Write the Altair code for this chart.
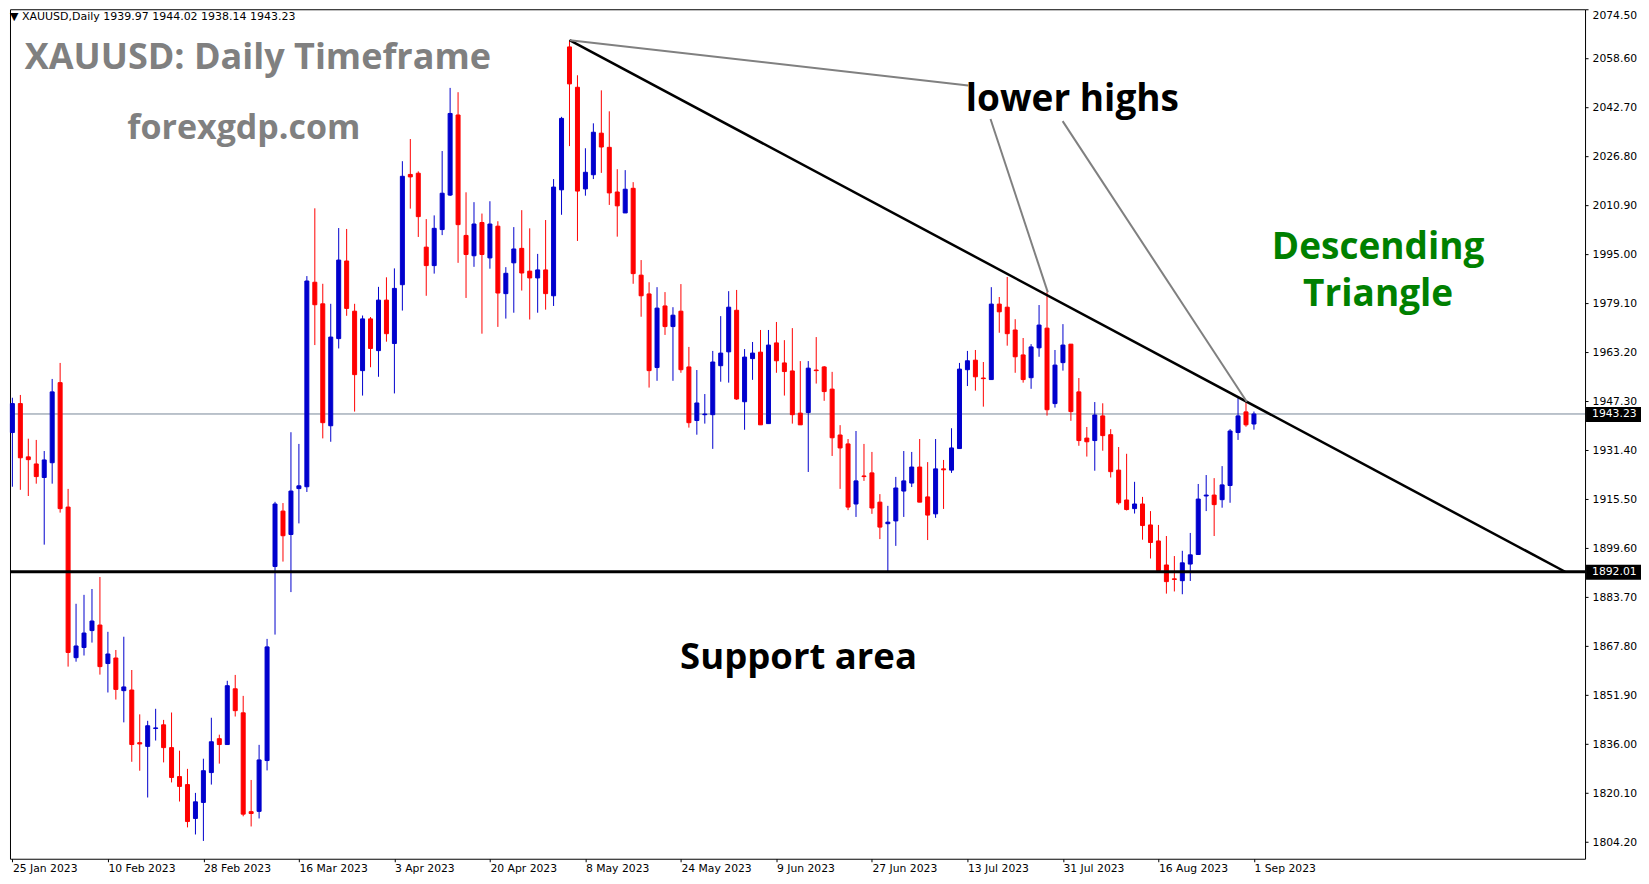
import altair as alt
import pandas as pd

# ---------------- data ----------------
opens = [1937.2, 1946.6, 1929.3, 1927.0, 1922.6, 1927.4, 1953.4, 1913.0, 1864.1, 1867.4,
         1872.9, 1874.7, 1862.2, 1864.0, 1853.4, 1853.6, 1836.5, 1835.3, 1841.1, 1842.3,
         1834.9, 1825.5, 1822.9, 1811.9, 1817.1, 1826.8, 1837.8, 1835.9, 1854.0, 1846.2,
         1814.1, 1814.2, 1830.7, 1893.7, 1911.7, 1904.1, 1919.0, 1919.6, 1986.0, 1979.0,
         1939.4, 1967.7, 1992.9, 1976.6, 1957.3, 1974.1, 1963.8, 1980.2, 1966.1, 1985.2,
         2021.0, 2021.4, 1997.4, 1991.4, 2003.1, 2014.3, 2040.3, 2001.2, 1994.6, 2005.4,
         1993.9, 2004.2, 1982.3, 1992.3, 1997.0, 1989.6, 1987.4, 1990.0, 1981.6, 2016.0,
         2062.4, 2049.3, 2016.3, 2020.9, 2034.4, 2029.8, 2015.3, 2008.5, 2016.5, 1988.3,
         1982.2, 1958.3, 1978.3, 1971.6, 1976.6, 1958.5, 1941.1, 1943.0, 1943.0, 1958.9,
         1963.4, 1976.9, 1947.2, 1961.2, 1963.3, 1940.1, 1966.3, 1959.8, 1957.2, 1943.5,
         1943.7, 1957.5, 1958.5, 1951.3, 1936.4, 1933.5, 1914.0, 1923.1, 1924.1, 1914.6,
         1907.6, 1908.5, 1918.2, 1920.8, 1926.0, 1916.3, 1910.8, 1925.4, 1925.0, 1932.0,
         1957.6, 1960.7, 1954.9, 1954.4, 1978.9, 1977.9, 1970.5, 1962.4, 1955.0, 1964.7,
         1971.1, 1946.6, 1959.9, 1965.9, 1950.4, 1935.4, 1934.6, 1942.6, 1936.5, 1925.0,
         1915.3, 1912.5, 1914.0, 1907.2, 1902.0, 1894.2, 1889.7, 1889.1, 1894.5, 1897.6,
         1916.6, 1916.9, 1915.4, 1920.0, 1937.2, 1943.9, 1939.97]
highs = [1948.5, 1949.4, 1935.2, 1934.8, 1931.2, 1954.6, 1959.8, 1918.9, 1881.6, 1884.5,
         1886.4, 1890.3, 1872.5, 1866.6, 1870.9, 1860.1, 1845.7, 1843.6, 1847.5, 1843.9,
         1846.3, 1833.9, 1828.0, 1820.2, 1831.3, 1844.6, 1839.1, 1856.6, 1858.5, 1851.7,
         1824.4, 1835.8, 1870.2, 1914.7, 1914.3, 1937.3, 1933.5, 1988.0, 2010.0, 1985.5,
         1979.0, 2003.6, 2003.3, 1979.0, 1975.2, 1974.7, 1984.5, 1987.6, 1990.5, 2025.3,
         2032.5, 2022.0, 2006.5, 2007.7, 2028.6, 2049.1, 2047.7, 2015.2, 2012.0, 2008.3,
         2012.3, 2005.8, 1990.9, 2003.9, 2009.4, 2003.5, 1995.2, 2006.2, 2019.5, 2039.7,
         2064.6, 2053.2, 2029.5, 2037.6, 2048.3, 2041.5, 2022.7, 2022.4, 2018.5, 1993.2,
         1986.0, 1984.4, 1982.8, 1977.9, 1985.4, 1965.0, 1957.5, 1949.7, 1963.7, 1975.0,
         1983.1, 1983.5, 1964.3, 1966.6, 1970.5, 1970.5, 1973.1, 1967.2, 1971.1, 1960.4,
         1960.4, 1968.2, 1958.8, 1956.9, 1939.6, 1935.1, 1937.7, 1933.5, 1930.9, 1917.2,
         1913.4, 1922.8, 1931.2, 1930.9, 1935.1, 1927.6, 1935.1, 1928.3, 1938.6, 1959.8,
         1963.7, 1964.0, 1960.1, 1984.4, 1981.2, 1987.7, 1974.0, 1967.9, 1965.9, 1978.6,
         1982.8, 1964.0, 1972.4, 1965.9, 1954.9, 1939.0, 1947.1, 1946.7, 1938.3, 1932.5,
         1930.3, 1921.2, 1916.3, 1911.7, 1907.2, 1903.6, 1897.1, 1898.8, 1904.6, 1920.5,
         1923.4, 1922.4, 1926.3, 1938.3, 1948.4, 1947.1, 1944.02]
lows = [1919.6, 1918.6, 1916.6, 1920.6, 1900.8, 1920.6, 1911.2, 1861.2, 1862.8, 1864.8,
        1869.0, 1858.6, 1852.8, 1850.5, 1843.1, 1830.3, 1827.4, 1818.7, 1837.2, 1830.1,
        1823.6, 1817.4, 1809.0, 1806.7, 1804.6, 1822.9, 1829.7, 1835.9, 1845.0, 1812.6,
        1809.3, 1811.9, 1827.5, 1871.6, 1895.3, 1885.4, 1907.7, 1917.9, 1965.6, 1935.3,
        1934.2, 1964.5, 1975.1, 1944.0, 1949.2, 1958.4, 1955.3, 1966.7, 1949.9, 1976.8,
        2009.9, 2000.7, 1981.6, 1988.8, 2001.3, 2014.0, 1992.3, 1980.9, 1991.0, 1969.3,
        1990.4, 1971.5, 1974.2, 1976.1, 1983.3, 1973.9, 1976.1, 1977.1, 1978.3, 2007.9,
        2030.2, 1999.4, 2014.1, 2019.5, 2021.5, 2011.1, 2000.8, 2008.5, 1985.5, 1974.8,
        1951.8, 1954.0, 1968.9, 1954.0, 1956.6, 1938.8, 1936.5, 1940.1, 1931.9, 1953.7,
        1953.4, 1947.8, 1938.1, 1954.3, 1939.7, 1940.1, 1956.6, 1949.2, 1940.1, 1939.7,
        1924.4, 1953.1, 1947.5, 1929.6, 1918.9, 1912.0, 1909.8, 1921.5, 1910.8, 1902.6,
        1892.0, 1900.4, 1909.8, 1919.5, 1914.6, 1902.3, 1909.5, 1912.4, 1924.1, 1931.9,
        1952.3, 1950.8, 1945.6, 1954.4, 1969.6, 1965.4, 1956.6, 1953.4, 1951.4, 1961.8,
        1942.7, 1945.3, 1957.3, 1941.0, 1932.9, 1929.4, 1924.8, 1931.3, 1922.6, 1913.8,
        1911.9, 1910.9, 1902.4, 1896.3, 1892.3, 1884.9, 1885.6, 1884.7, 1889.0, 1897.6,
        1911.7, 1903.6, 1912.8, 1914.4, 1934.8, 1939.1, 1938.14]
closes = [1946.6, 1929.0, 1928.4, 1922.9, 1928.3, 1950.4, 1912.5, 1865.8, 1867.9, 1872.1,
          1876.0, 1861.2, 1865.3, 1853.8, 1854.6, 1835.9, 1836.1, 1842.0, 1841.3, 1834.9,
          1825.2, 1822.3, 1810.9, 1817.3, 1827.4, 1836.8, 1835.9, 1855.0, 1846.9, 1813.3,
          1813.5, 1830.9, 1867.6, 1914.0, 1903.7, 1918.2, 1919.9, 1986.4, 1978.7, 1940.4,
          1968.2, 1993.2, 1977.5, 1956.0, 1974.1, 1964.5, 1980.2, 1969.3, 1984.0, 2020.4,
          2020.2, 2007.3, 1991.4, 2003.5, 2014.9, 2040.8, 2004.7, 1995.0, 2004.9, 1995.0,
          2004.9, 1982.5, 1988.9, 1996.8, 1989.0, 1987.4, 1990.0, 1982.3, 2016.9, 2039.2,
          2050.4, 2015.6, 2021.7, 2034.7, 2029.9, 2015.0, 2010.8, 2016.2, 1988.8, 1981.6,
          1957.3, 1977.6, 1971.6, 1975.3, 1957.6, 1940.4, 1946.8, 1943.2, 1960.1, 1963.0,
          1977.9, 1948.1, 1961.7, 1963.0, 1939.7, 1965.6, 1960.5, 1957.0, 1943.0, 1939.7,
          1958.1, 1957.3, 1950.5, 1935.5, 1932.2, 1913.0, 1921.5, 1922.9, 1912.7, 1906.5,
          1908.1, 1919.2, 1921.5, 1926.0, 1914.6, 1910.4, 1925.4, 1925.1, 1932.2, 1957.8,
          1960.5, 1955.3, 1954.7, 1978.9, 1976.4, 1969.3, 1961.8, 1954.4, 1965.0, 1972.1,
          1944.6, 1959.1, 1965.6, 1944.0, 1934.6, 1934.2, 1942.9, 1936.2, 1924.5, 1914.4,
          1912.2, 1914.0, 1907.0, 1901.5, 1892.4, 1888.8, 1889.5, 1894.9, 1897.5, 1915.6,
          1916.9, 1913.8, 1920.2, 1937.7, 1942.6, 1939.7, 1943.23]

date_labels = ["25 Jan 2023", "10 Feb 2023", "28 Feb 2023", "16 Mar 2023", "3 Apr 2023",
               "20 Apr 2023", "8 May 2023", "24 May 2023", "9 Jun 2023", "27 Jun 2023",
               "13 Jul 2023", "31 Jul 2023", "16 Aug 2023", "1 Sep 2023"]
price_ticks = [2074.50, 2058.60, 2042.70, 2026.80, 2010.90, 1995.00, 1979.10, 1963.20,
               1947.30, 1931.40, 1915.50, 1899.60, 1883.70, 1867.80, 1851.90, 1836.00,
               1820.10, 1804.20]

last_price = 1943.23
support_price = 1892.01

trend_idx = [70, 195.1]
trend_price = [2064.6, 1892.0]

pointer_seg = ["a", "a", "b", "b", "c", "c"]
pointer_idx = [70.05, 120.1, 122.9, 130.1, 131.96, 155.1]
pointer_price = [2064.6, 2049.9, 2039.0, 1982.7, 2038.3, 1947.2]

# ---------------- tables ----------------
n = len(opens)
candles = pd.DataFrame({
    "i": list(range(n)), "open": opens, "high": highs, "low": lows, "close": closes,
})
candles["dir"] = ["up" if c >= o else "down" for o, c in zip(opens, closes)]

trend = pd.DataFrame({"i": trend_idx, "p": trend_price})
pointers = pd.DataFrame({"seg": pointer_seg, "i": pointer_idx, "p": pointer_price})
levels = pd.DataFrame({"p": [last_price, support_price],
                       "lab": [f"{last_price:.2f}", f"{support_price:.2f}"]})

W, H = 1576, 850
xscale = alt.Scale(domain=[-0.3, 197.6], nice=False, zero=False, padding=0)
yscale = alt.Scale(domain=[1798.82, 2074.63], nice=False, zero=False)

label_arr = "[" + ",".join(f"'{d}'" for d in date_labels) + "]"
xaxis = alt.Axis(values=[12 * k for k in range(len(date_labels))],
                 labelExpr=f"{label_arr}[round(datum.value/12)]",
                 labelAlign="left", labelBaseline="top", labelPadding=1,
                 labelFont="DejaVu Sans", labelFontSize=10.8, labelColor="black",
                 labelFlush=False, labelOverlap=False,
                 tickSize=3, tickColor="black", domain=False, grid=False, title=None)
yaxis = alt.Axis(orient="right", values=price_ticks, format=".2f", labelPadding=4,
                 labelFont="DejaVu Sans", labelFontSize=10.8, labelColor="black",
                 labelOverlap=False, labelFlush=True,
                 tickSize=3, tickColor="black", domain=False, grid=False, title=None)

X = lambda f: alt.X(f, type="quantitative", scale=xscale, axis=xaxis)
Y = lambda f: alt.Y(f, type="quantitative", scale=yscale, axis=yaxis)
col = alt.Color("dir:N", scale=alt.Scale(domain=["up", "down"], range=["#0000CD", "#FF0000"]),
                legend=None)
strk = alt.Stroke("dir:N", scale=alt.Scale(domain=["up", "down"], range=["#0000CD", "#FF0000"]),
                  legend=None)

base = alt.Chart(candles)

last_line = alt.Chart(levels.iloc[[0]]).mark_rule(color="#778899", strokeWidth=1).encode(y=Y("p"))
support_line = alt.Chart(levels.iloc[[1]]).mark_rule(color="black", strokeWidth=3).encode(y=Y("p"))

wicks = base.mark_rule(strokeWidth=1).encode(x=X("i"), y=Y("low"), y2="high", color=col)
bodies = base.mark_bar(size=4, strokeWidth=1).encode(x=X("i"), y=Y("open"), y2="close",
                                                      color=col, stroke=strk)

trend_line = alt.Chart(trend).mark_line(color="black", strokeWidth=2.5).encode(x=X("i"), y=Y("p"))
pointer_lines = alt.Chart(pointers).mark_line(color="#808080", strokeWidth=2).encode(
    x=X("i"), y=Y("p"), detail="seg:N")

boxes = alt.Chart(levels).mark_rect(color="black", yOffset=-7, y2Offset=8).encode(
    y=Y("p"), y2="p", x=alt.value(W + 1), x2=alt.value(W + 56))
box_text = alt.Chart(levels).mark_text(color="white", align="left", baseline="middle",
                                       font="DejaVu Sans", fontSize=10.8).encode(
    y=Y("p"), x=alt.value(W + 7), text="lab:N")


def label(txt, x, y, size, color, weight="bold", font="Open Sans", align="center",
          baseline="alphabetic"):
    return alt.Chart(pd.DataFrame({"t": [txt]})).mark_text(
        font=font, fontSize=size, fontWeight=weight, color=color, align=align, baseline=baseline
    ).encode(x=alt.value(x), y=alt.value(y), text="t:N")


header = label("\u25BC XAUUSD,Daily  1939.97 1944.02 1938.14 1943.23", 0, 2, 11, "black",
               weight="normal", font="DejaVu Sans", align="left", baseline="top")
title = label("XAUUSD: Daily Timeframe", 248, 60, 36, "#808080")
site = label("forexgdp.com", 234, 130, 34, "#808080")
lower = label("lower highs", 1063, 102, 37, "black")
desc1 = label("Descending", 1369, 250, 37, "#008000")
desc2 = label("Triangle", 1369, 297, 37, "#008000")
support = label("Support area", 789, 660, 36.5, "black")

chart = alt.layer(
    last_line, wicks, bodies, support_line, trend_line, pointer_lines,
    boxes, box_text, header, title, site, lower, desc1, desc2, support
).properties(
    width=W, height=H,
    padding=0,
    background="white",
).configure_view(stroke="black", strokeWidth=1)

chart.save("out.html", embed_options={"renderer": "svg", "actions": False})
